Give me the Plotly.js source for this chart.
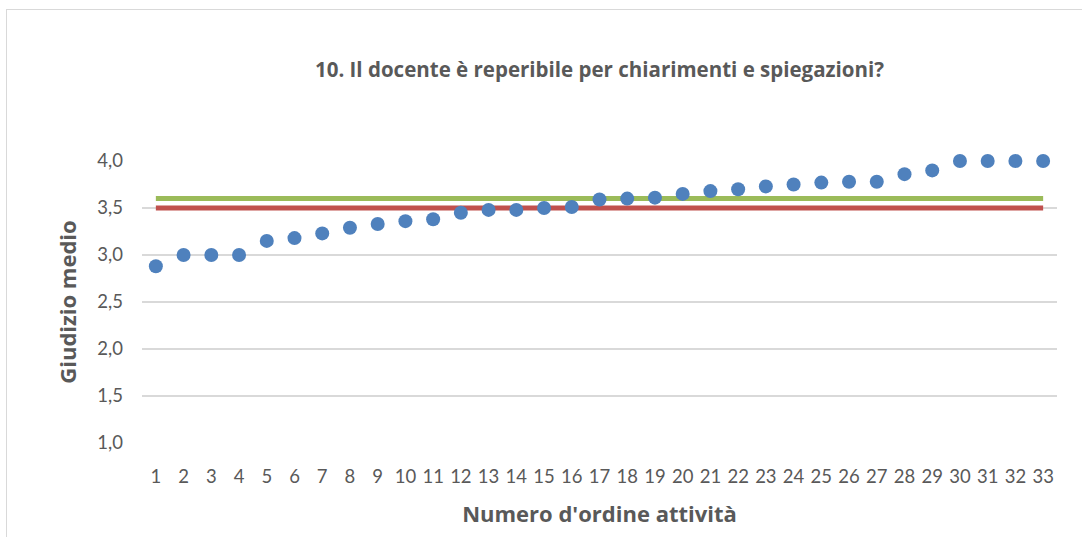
<!DOCTYPE html>
<html>
<head>
<meta charset="utf-8">
<script src="https://cdn.plot.ly/plotly-3.0.1.min.js"></script>
<style>
  html, body { margin: 0; padding: 0; background: #ffffff; }
  #wrap { position: relative; width: 1082px; height: 537px; overflow: hidden; }
  #chart { width: 1082px; height: 537px; }
  #frame { position: absolute; left: 6px; top: 9px; width: 1200px; height: 700px;
           border: 1px solid #d9d9d9; pointer-events: none; box-sizing: border-box; }
</style>
</head>
<body>
<div id="wrap">
  <div id="chart"></div>
  <div id="frame"></div>
</div>
<script>
// Data
const categories = [1,2,3,4,5,6,7,8,9,10,11,12,13,14,15,16,17,18,19,20,21,22,23,24,25,26,27,28,29,30,31,32,33];
const giudizioMedio = [2.88,3.00,3.00,3.00,3.15,3.18,3.23,3.29,3.33,3.36,3.38,3.45,3.48,3.48,3.50,3.51,3.59,3.60,3.61,3.65,3.68,3.70,3.73,3.75,3.77,3.78,3.78,3.86,3.90,4.00,4.00,4.00,4.00];
const greenRefX = [1, 33];
const greenRefY = [3.6, 3.6];
const redRefX = [1, 33];
const redRefY = [3.5, 3.5];
const yTickVals = [1.0, 1.5, 2.0, 2.5, 3.0, 3.5, 4.0];

const tickFont = "Lato, sans-serif";
const titleFont = "'Open Sans', sans-serif";
const grey = '#595959';

const traces = [
  { x: greenRefX, y: greenRefY, type: 'scatter', mode: 'lines',
    line: { color: '#9bbb59', width: 5 }, hoverinfo: 'skip', showlegend: false, cliponaxis: false },
  { x: redRefX, y: redRefY, type: 'scatter', mode: 'lines',
    line: { color: '#c0504d', width: 5 }, hoverinfo: 'skip', showlegend: false, cliponaxis: false },
  { x: categories, y: giudizioMedio, type: 'scatter', mode: 'markers',
    marker: { color: '#4f81bd', size: 14 }, showlegend: false, cliponaxis: false }
];

const layout = {
  width: 1082, height: 537,
  paper_bgcolor: '#ffffff', plot_bgcolor: '#ffffff',
  margin: { l: 142, r: 25, t: 161, b: 94 },
  separators: ',.',
  font: { family: tickFont, color: grey },
  title: {
    text: '<b>10. Il docente è reperibile per chiarimenti e spiegazioni?</b>',
    font: { family: titleFont, size: 20.5, color: grey },
    xref: 'paper', x: 0.5, xanchor: 'center',
    yref: 'container', y: 1 - 70/537, yanchor: 'middle'
  },
  xaxis: {
    range: [0.5, 33.5],
    tickmode: 'array', tickvals: categories, ticktext: categories.map(String),
    showgrid: false, zeroline: false, showline: false, ticks: '',
    tickfont: { family: tickFont, size: 18.5, color: grey },
    ticklabelstandoff: 20,
    title: { text: "<b>Numero d'ordine attività</b>", font: { family: titleFont, size: 22, color: grey }, standoff: 21 }
  },
  yaxis: {
    range: [1, 4],
    tickmode: 'array', tickvals: yTickVals, tickformat: '.1f',
    showgrid: true, gridcolor: '#d9d9d9', gridwidth: 1.5,
    zeroline: false, showline: false, ticks: '',
    tickfont: { family: tickFont, size: 18.5, color: grey },
    ticklabelstandoff: 18,
    title: { text: '<b>Giudizio medio</b>', font: { family: titleFont, size: 22, color: grey }, standoff: 14 }
  }
};

Plotly.newPlot('chart', traces, layout, { displayModeBar: false, staticPlot: true });
</script>
</body>
</html>
